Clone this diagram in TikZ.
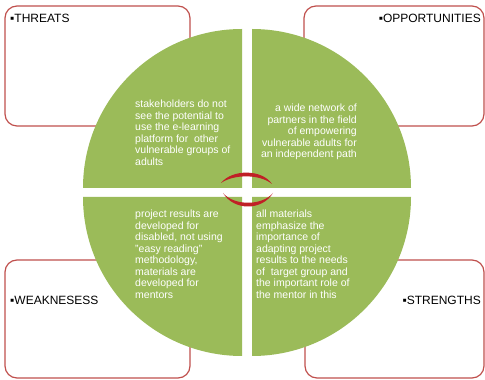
\documentclass[tikz,border=0pt]{standalone}
\usepackage{fontspec}
\setmainfont{Liberation Sans}
\usetikzlibrary{positioning}

\definecolor{quadgreen}{RGB}{155,187,89}
\definecolor{boxred}{RGB}{192,80,77}
\definecolor{arcred}{RGB}{192,32,38}

\tikzset{
  swotbox/.style={draw=boxred, line width=1.2pt, fill=white, rounded corners=12pt},
  boxlabel/.style={inner sep=0pt, font=\fontsize{12}{14}\selectfont},
  quadtext/.style={inner sep=0pt, text=white, font=\fontsize{10.5}{11.5}\selectfont}
}

\begin{document}
\begin{tikzpicture}[x=1pt, y=1pt]
	\useasboundingbox (0,0) rectangle (485,380);

	% the four boxes behind the circle
	\node [swotbox, minimum width=185pt, minimum height=120pt] (threats) at (97.5,314) {};
	\node [swotbox, minimum width=180pt, minimum height=120pt] (opport) at (394,314) {};
	\node [swotbox, minimum width=185pt, minimum height=118pt] (weak) at (97.5,61) {};
	\node [swotbox, minimum width=179pt, minimum height=118pt] (strength) at (394.5,61) {};

	\node [boxlabel, anchor=north west] (threatslbl) at (10,366) {▪THREATS};
	\node [boxlabel, anchor=north east] (opportlbl) at (481,366) {▪OPPORTUNITIES};
	\node [boxlabel, anchor=north west] (weaklbl) at (10,84) {▪WEAKNESESS};
	\node [boxlabel, anchor=north east] (strengthlbl) at (481,84) {▪STRENGTHS};

	% quarter discs
	\fill [quadgreen] (242,192) -- ++(-159,0) arc [start angle=180, end angle=90, radius=159] -- cycle;
	\fill [quadgreen] (252,192) -- ++(0,159) arc [start angle=90, end angle=0, radius=159] -- cycle;
	\fill [quadgreen] (242,183) -- ++(-159,0) arc [start angle=180, end angle=270, radius=159] -- cycle;
	\fill [quadgreen] (252,183) -- ++(0,-159) arc [start angle=270, end angle=360, radius=159] -- cycle;

	\node [quadtext, anchor=north west, align=left] (threatstxt) at (135,280)
		{stakeholders do not\\see the potential to\\use the e-learning\\platform for\ \ other\\vulnerable groups of\\adults};
	\node [quadtext, anchor=north east, align=right] (opporttxt) at (357,276)
		{a wide network of\\partners in the field\\of empowering\\vulnerable adults for\\an independent path};
	\node [quadtext, anchor=north west, align=left] (weaktxt) at (135,170)
		{project results are\\developed for\\disabled, not using\\"easy reading"\\methodology,\\materials are\\developed for\\mentors};
	\node [quadtext, anchor=north west, align=left] (strengthtxt) at (256,170)
		{all materials\\emphasize the\\importance of\\adapting project\\results to the needs\\of\ \ target group and\\the important role of\\the mentor in this};

	% tapered arcs in the middle
	\fill [arcred] (221,197) .. controls (232,211) and (262,211) .. (272,196)
		.. controls (260,206) and (234,206) .. cycle;
	\fill [arcred] (223,187) .. controls (234,169) and (262,169) .. (273,187)
		.. controls (262,174) and (234,174) .. cycle;
\end{tikzpicture}
\end{document}
